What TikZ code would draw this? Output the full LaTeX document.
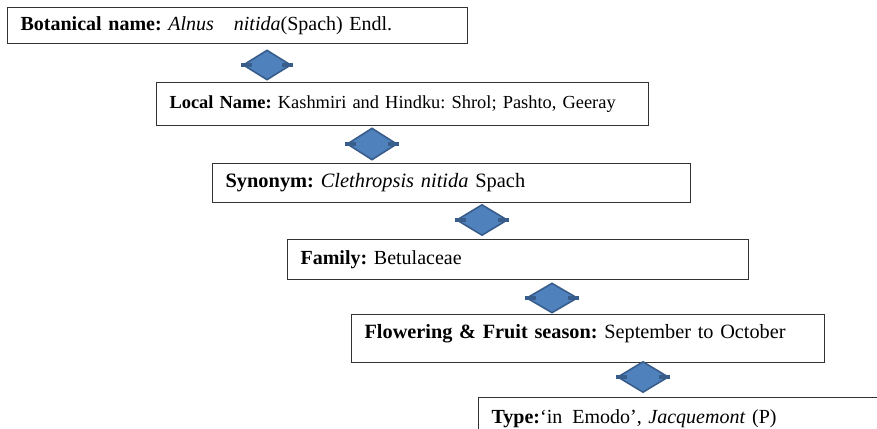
\documentclass[tikz,border=0pt]{standalone}
\usepackage{fontspec}
\setmainfont{Liberation Serif}
\usetikzlibrary{shapes.geometric}
\definecolor{dmdfill}{HTML}{4F81BD}
\definecolor{dmdline}{HTML}{385D8A}

\begin{document}
\frenchspacing
\begin{tikzpicture}[x=0.75pt, y=-0.75pt,
        infobox/.style={draw=black!80, line width=0.9pt, anchor=north west, inner xsep=13*0.75pt, inner ysep=0pt, align=left, font=\fontsize{15}{17}\selectfont},
        dmd/.style={shape=diamond, fill=dmdfill, draw=dmdline, line width=1.2pt, inner sep=0pt, minimum width=48*0.75pt, minimum height=30*0.75pt},
        notch/.style={draw=dmdline, line width=3.2pt}]
    \useasboundingbox (0,0) rectangle (877,428);
    \clip (0,0) rectangle (877,428);
    \node[infobox, minimum width=460*0.75pt, minimum height=36*0.75pt, text width=434*0.75pt] (bot) at (7,7) {\textbf{Botanical name:} \textit{Alnus}\hspace{1em}\textit{nitida}(Spach) Endl.};
    \node[infobox, minimum width=492*0.75pt, minimum height=43*0.75pt, text width=466*0.75pt, font=\fontsize{13.8}{16}\selectfont] (loc) at (156,82) {\textbf{Local Name:} Kashmiri and Hindku: Shrol; Pashto, Geeray};
    \node[infobox, minimum width=478*0.75pt, minimum height=39*0.75pt, text width=452*0.75pt, font=\fontsize{15.3}{17}\selectfont] (syn) at (212,163) {\textbf{Synonym:} \textit{Clethropsis nitida} Spach};
    \node[infobox, minimum width=461*0.75pt, minimum height=40*0.75pt, text width=435*0.75pt] (fam) at (287,239) {\textbf{Family:} Betulaceae};
    \node[infobox, minimum width=473*0.75pt, minimum height=48*0.75pt, text width=447*0.75pt, font=\fontsize{15.2}{17}\selectfont] (flw) at (351,314) {\textbf{Flowering \& Fruit season:} September to October\\[-6pt]\mbox{}};
    \node[infobox, minimum width=460*0.75pt, minimum height=42*0.75pt, text width=434*0.75pt] (typ) at (478,397) {\textbf{Type:}‘in\hspace{0.5em}Emodo’, \textit{Jacquemont} (P)};
    \node[dmd] (d1) at (267,65) {};
    \node[dmd, minimum width=50*0.75pt, minimum height=32*0.75pt] (d2) at (372,144) {};
    \node[dmd, minimum width=51*0.75pt, minimum height=31*0.75pt] (d3) at (482,220) {};
    \node[dmd, minimum width=51*0.75pt, minimum height=30*0.75pt] (d4) at (552,298) {};
    \node[dmd, minimum width=51*0.75pt, minimum height=31*0.75pt] (d5) at (643,377) {};
    \foreach \d in {d1,d2,d3,d4,d5} {
        \draw[notch] (\d.west) ++(-1,0) -- ++(11,0);
        \draw[notch] (\d.east) ++(1,0) -- ++(-11,0);
    }
\end{tikzpicture}
\end{document}
